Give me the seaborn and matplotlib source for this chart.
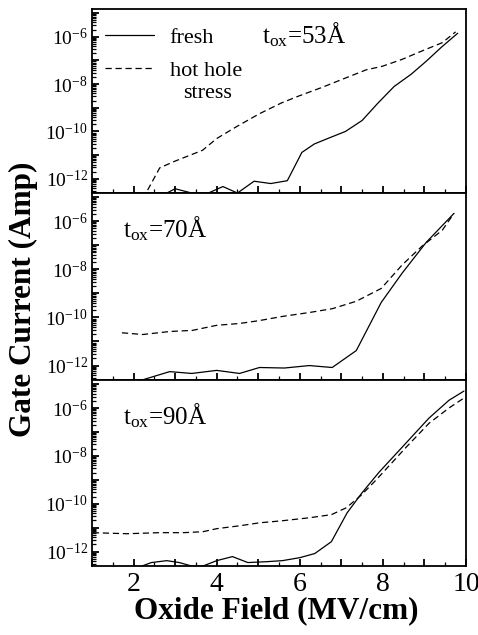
import numpy as np
import pandas as pd
import matplotlib
matplotlib.use("Agg")
import matplotlib.pyplot as plt
import matplotlib.ticker as mticker
import seaborn as sns

# ---------------- data ----------------
# tox = 53 A
x53_fresh = [1.9, 2.8, 3.0, 3.4, 3.8, 4.15, 4.5, 4.9, 5.3, 5.7, 6.05, 6.35, 6.67,
             7.1, 7.5, 7.87, 8.27, 8.68, 9.04, 9.4, 9.8]
i53_fresh = [2.5e-13, 2.5e-13, 3.8e-13, 2.5e-13, 2.5e-13, 4.7e-13, 2.5e-13, 7.9e-13,
             6.3e-13, 8.3e-13, 1.3e-11, 2.95e-11, 5.0e-11, 1.0e-10, 2.9e-10, 1.5e-9,
             7.9e-9, 2.6e-8, 9.1e-8, 3.5e-7, 1.4e-6]
x53_stress = [1.9, 2.3, 2.63, 2.99, 3.66, 4.0, 4.48, 5.03, 5.56, 5.99, 6.55, 7.1,
              7.6, 7.98, 8.46, 8.94, 9.43, 9.75]
i53_stress = [2.5e-13, 2.5e-13, 2.9e-12, 5.5e-12, 1.6e-11, 5.0e-11, 1.6e-10, 5.6e-10,
              1.6e-9, 3.2e-9, 7.4e-9, 1.8e-8, 4.0e-8, 5.6e-8, 1.1e-7, 2.5e-7, 5.6e-7,
              1.6e-6]
# tox = 70 A
x70_fresh = [2.2, 2.87, 3.4, 4.0, 4.55, 5.03, 5.63, 6.23, 6.78, 7.36, 7.96, 8.46,
             9.04, 9.71]
i70_fresh = [2.5e-13, 5.6e-13, 4.7e-13, 6.3e-13, 4.7e-13, 8.3e-13, 7.9e-13, 1.0e-12,
             8.3e-13, 4.2e-12, 4.2e-10, 6.8e-9, 1.3e-7, 2.1e-6]
x70_stress = [1.72, 2.22, 2.87, 3.42, 4.0, 4.55, 5.03, 5.58, 6.23, 6.78, 7.36, 7.96,
              8.46, 8.94, 9.43, 9.71]
i70_stress = [2.3e-11, 1.95e-11, 2.6e-11, 2.9e-11, 4.7e-11, 5.6e-11, 7.4e-11, 1.1e-10,
              1.6e-10, 2.3e-10, 4.7e-10, 1.6e-9, 1.5e-8, 9.1e-8, 4.2e-7, 2.1e-6]
# tox = 90 A
x90_fresh = [2.2, 2.43, 2.8, 3.1, 3.4, 3.67, 4.0, 4.38, 4.75, 5.2, 5.58, 6.0, 6.36,
             6.76, 7.14, 7.5, 7.91, 8.56, 9.11, 9.59, 9.95]
i90_fresh = [2.5e-13, 3.5e-13, 4.2e-13, 3.5e-13, 2.5e-13, 2.5e-13, 4.2e-13, 6.2e-13,
             3.5e-13, 3.8e-13, 4.2e-13, 5.6e-13, 8.3e-13, 2.6e-12, 4.2e-11, 2.9e-10,
             2.1e-9, 3.5e-8, 3.8e-7, 2.1e-6, 5.1e-6]
x90_stress = [1.02, 1.84, 2.63, 3.2, 3.67, 4.0, 4.55, 5.03, 5.58, 6.23, 6.76, 7.12,
              7.48, 7.84, 8.56, 9.11, 9.59, 9.95]
i90_stress = [6.2e-12, 5.6e-12, 6.2e-12, 6.2e-12, 6.8e-12, 9.1e-12, 1.2e-11, 1.6e-11,
              1.95e-11, 2.6e-11, 3.5e-11, 6.8e-11, 2.3e-10, 1.0e-9, 2.3e-8, 2.3e-7,
              1.0e-6, 2.6e-6]

conditions = ["fresh", "hot hole"]
legend_extra = "stress"
panel_labels = ["53", "70", "90"]
x_ticklabels = ["2", "4", "6", "8", "10"]

panels = [
    (panel_labels[0], x53_fresh, i53_fresh, x53_stress, i53_stress),
    (panel_labels[1], x70_fresh, i70_fresh, x70_stress, i70_stress),
    (panel_labels[2], x90_fresh, i90_fresh, x90_stress, i90_stress),
]

# ---------------- style ----------------
sns.set_theme(style="ticks")
plt.rcParams["font.family"] = ["Liberation Serif", "DejaVu Serif"]
plt.rcParams["mathtext.fontset"] = "custom"
plt.rcParams["mathtext.rm"] = "Liberation Serif"
plt.rcParams["mathtext.it"] = "Liberation Serif:italic"
plt.rcParams["mathtext.bf"] = "Liberation Serif:bold"
for key in ["text.color", "axes.labelcolor", "xtick.color", "ytick.color",
            "axes.edgecolor"]:
    plt.rcParams[key] = "black"

fig = plt.figure(figsize=(4.78, 6.35), dpi=100)
left, right = 92 / 478, 466 / 478
tops = [9, 193, 380]
bots = [193, 380, 566]
axes = []
for t, b in zip(tops, bots):
    ax = fig.add_axes([left, 1 - b / 635, right - left, (b - t) / 635])
    axes.append(ax)


def ylab(v, pos):
    e = int(round(np.log10(v)))
    if e % 2 == 0:
        return r"10$^{\mathregular{%d}}$" % e
    return ""


def xlab(v, pos):
    r = int(round(v))
    if abs(v - r) < 1e-6 and r % 2 == 0 and 2 <= r <= 10:
        return x_ticklabels[r // 2 - 1]
    return ""


for k, (ax, (lab, xf, yf, xs, ys)) in enumerate(zip(axes, panels)):
    df = pd.DataFrame({
        "field": list(xf) + list(xs),
        "current": list(yf) + list(ys),
        "cond": [conditions[0]] * len(xf) + [conditions[1]] * len(xs),
    })
    ax.set_yscale("log")
    sns.lineplot(data=df, x="field", y="current", style="cond",
                 style_order=conditions, dashes=["", (5, 3)],
                 color="black", lw=0.9, sort=False, estimator=None,
                 legend=(k == 0), ax=ax)
    ax.set_xlim(1, 10)
    ax.set_ylim(10 ** -12.6, 10 ** -4.83)
    ax.set_xlabel("")
    ax.set_ylabel("")
    ax.yaxis.set_major_locator(mticker.LogLocator(base=10, numticks=30))
    ax.yaxis.set_minor_locator(mticker.LogLocator(base=10, subs=np.arange(2, 10), numticks=30))
    ax.yaxis.set_major_formatter(mticker.FuncFormatter(ylab))
    ax.yaxis.set_minor_formatter(mticker.NullFormatter())
    ax.xaxis.set_major_locator(mticker.MultipleLocator(1))
    ax.xaxis.set_minor_locator(mticker.MultipleLocator(0.5))
    if k == 2:
        ax.xaxis.set_major_formatter(mticker.FuncFormatter(xlab))
    else:
        ax.xaxis.set_major_formatter(mticker.NullFormatter())
    ax.tick_params(axis="both", which="both", direction="in", top=False, right=False,
                   color="black", labelsize=14, pad=3)
    ax.tick_params(axis="both", which="major", length=5, width=1.3)
    ax.tick_params(axis="both", which="minor", length=3, width=0.9)
    ax.tick_params(axis="x", which="major", labelsize=20, pad=4)
    for s in ax.spines.values():
        s.set_linewidth(1.3)
        s.set_color("black")
    ax.text(0.455 if k == 0 else 0.083, 0.86 if k == 0 else 0.81,
            r"t$_{\mathregular{ox}}$=%s$\mathregular{\AA}$" % lab,
            transform=ax.transAxes, fontsize=18, va="center", ha="left")
    if k == 0:
        handles, labels = ax.get_legend_handles_labels()
        leg = ax.legend(handles, labels, loc="upper left", bbox_to_anchor=(0.035, 0.9),
                        frameon=False, fontsize=16, handlelength=2.2, handletextpad=0.7,
                        borderpad=0, borderaxespad=0, labelspacing=0.55)
        for h in leg.get_lines():
            h.set_linewidth(0.9)
        ax.text(0.31, 1 - (93 - 9) / 184, legend_extra, transform=ax.transAxes,
                fontsize=16, ha="center", va="center")

fig.text(23 / 478, 1 - 299 / 635, "Gate Current (Amp)", rotation=90,
         fontsize=22.5, fontweight="bold", ha="center", va="center")
fig.text((left + right) / 2 - 0.005, 1 - 611 / 635, "Oxide Field (MV/cm)",
         fontsize=22.5, fontweight="bold", ha="center", va="center")

fig.savefig("out.png", dpi=100, facecolor="white")
